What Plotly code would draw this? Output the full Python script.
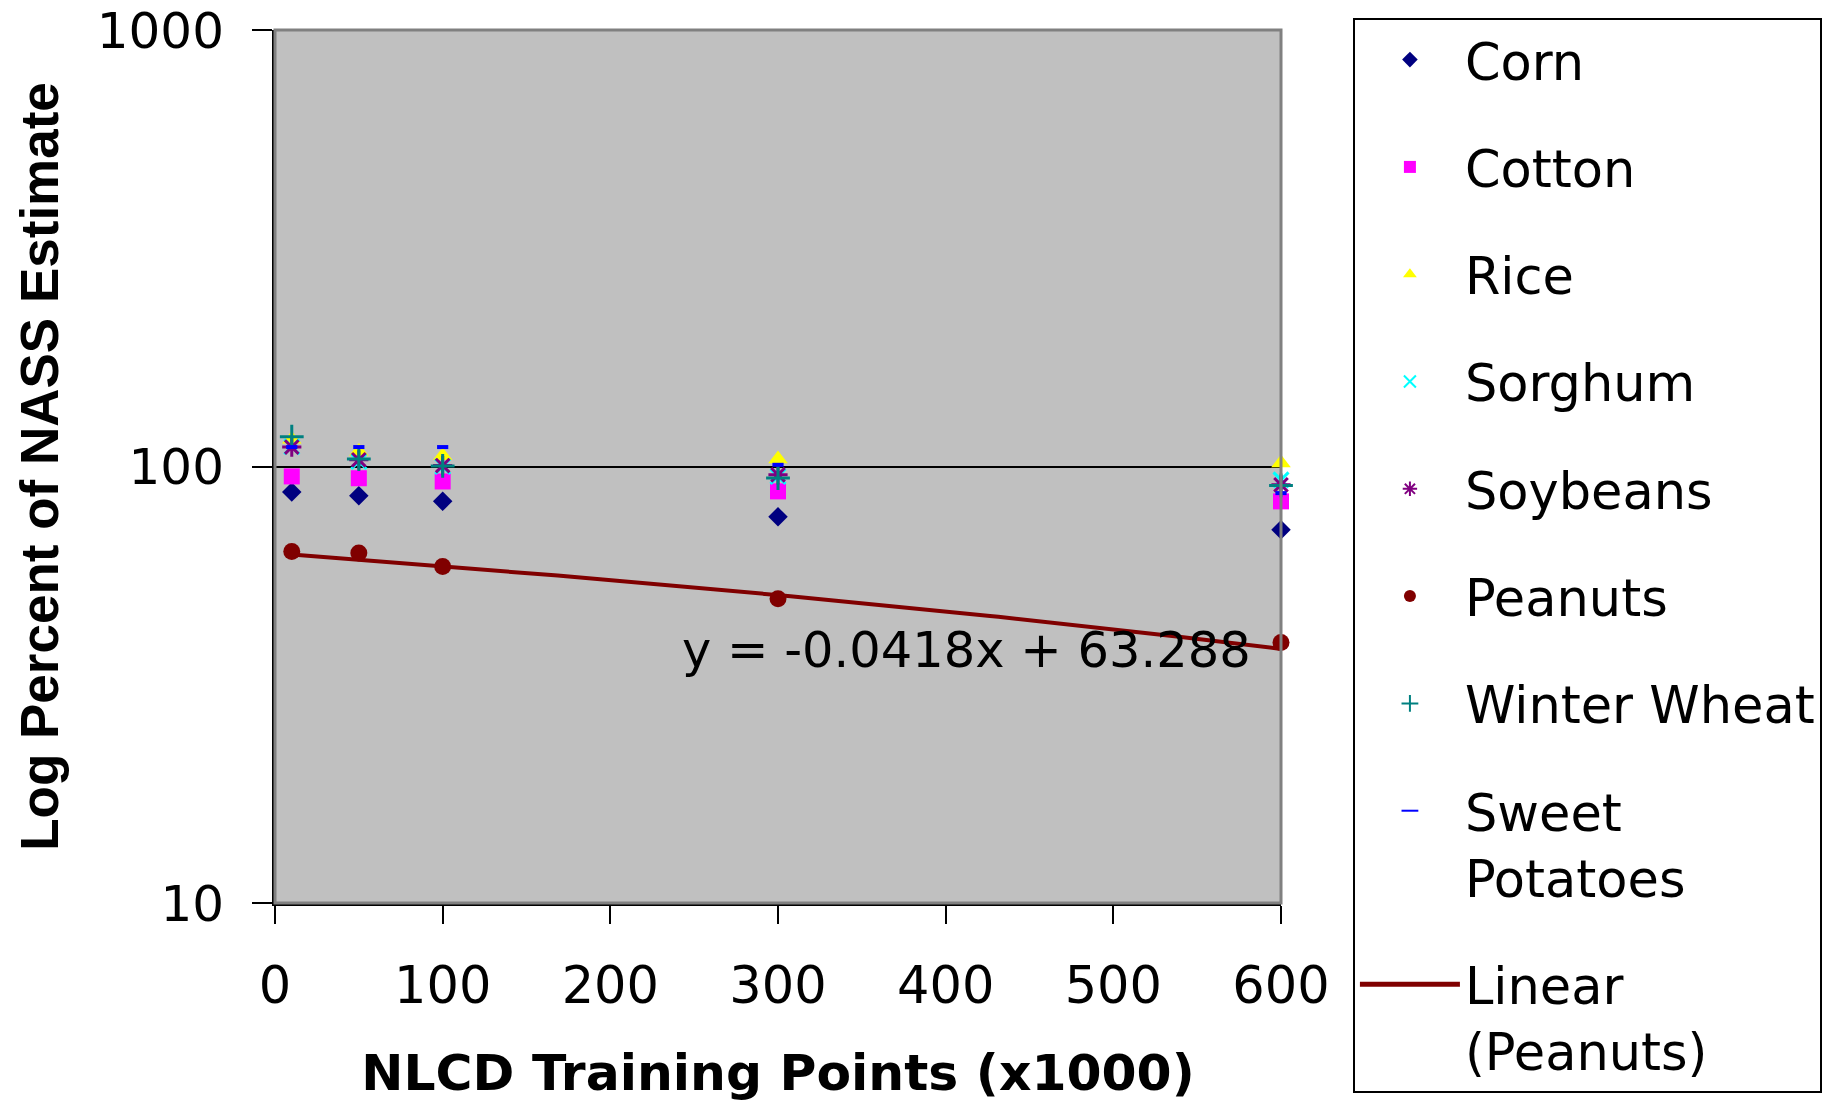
import numpy as np
import plotly.graph_objects as go

# ---- data ----
X_POINTS = [10, 50, 100, 300, 600]          # NLCD training points (x1000)
CORN = [87.4, 85.7, 83.2, 76.7, 71.6]
COTTON = [94.9, 94.0, 92.4, 87.7, 83.2]
RICE = [115.5, 108.2, 105.8, 104.0, 101.8]
SORGHUM = [111.0, 102.7, 100.0, 94.9, 93.2]
SOYBEANS = [110.8, 103.6, 100.5, 95.7, 90.8]
PEANUTS = [63.9, 63.4, 59.0, 49.8, 39.5]
WINTER_WHEAT = [117.0, 104.0, 100.3, 94.1, 90.5]
SWEET_POTATOES = [110.8, 110.8, 110.8, 100.9, 86.9]

# linear trendline for peanuts, as printed on the chart
TREND_SLOPE = -0.0418
TREND_INTERCEPT = 63.288
TREND_LABEL = "y = -0.0418x + 63.288"

X_TICKS = [0, 100, 200, 300, 400, 500, 600]
Y_TICKS = [10, 100, 1000]
Y_TICK_TEXT = ["10", "100", "1000"]

SERIES = [
    ("Corn", CORN, "diamond", "#000080", 15, 0),
    ("Cotton", COTTON, "square", "#FF00FF", 16, 0),
    ("Rice", RICE, "triangle-up", "#FFFF00", 17, 0),
    ("Sorghum", SORGHUM, "x-thin-open", "#00FFFF", 15, 3),
    ("Soybeans", SOYBEANS, "asterisk-open", "#800080", 16, 3),
    ("Peanuts", PEANUTS, "circle", "#800000", 17, 0),
    ("Winter Wheat", WINTER_WHEAT, "cross-thin-open", "#008080", 17, 3),
    ("Sweet<br>Potatoes", SWEET_POTATOES, "line-ew-open", "#0000FF", 8, 4),
]

TXT_FONT = "DejaVu Sans, Liberation Sans, Arial, sans-serif"

fig = go.Figure()

# trendline first so that the markers sit above it
trend_x = np.linspace(X_POINTS[0], X_POINTS[-1], 120)
trend_y = TREND_SLOPE * trend_x + TREND_INTERCEPT
fig.add_trace(go.Scatter(
    x=trend_x, y=trend_y, mode="lines", name="Linear<br>(Peanuts)",
    line=dict(color="#800000", width=4), legendgroup="g99", legendrank=100,
))

for i, (name, vals, sym, col, size, lw) in enumerate(SERIES):
    marker = dict(symbol=sym, color=col, size=size)
    if lw:
        marker["line"] = dict(color=col, width=lw)
    else:
        marker["line"] = dict(width=0)
    fig.add_trace(go.Scatter(
        x=X_POINTS, y=vals, mode="markers", name=name,
        marker=marker, legendgroup="g%d" % i, legendrank=i + 1, cliponaxis=False,
    ))

fig.add_annotation(
    x=583, y=np.log10(38.0), xref="x", yref="y",
    text=TREND_LABEL, showarrow=False, xanchor="right", yanchor="middle",
    font=dict(family=TXT_FONT, size=49.5, color="black"),
)

# plot-area border (grey on top/right like the reference)
fig.add_shape(type="rect", xref="x domain", yref="y domain", x0=0, x1=1, y0=0, y1=1,
              line=dict(color="#808080", width=3), layer="above")

fig.update_layout(
    width=1848, height=1102,
    margin=dict(l=275, r=567, t=30, b=199, autoexpand=False),
    paper_bgcolor="white", plot_bgcolor="#C0C0C0",
    font=dict(family=TXT_FONT, color="black", size=48),
    showlegend=True,
    legend=dict(
        xref="container", yref="container",
        x=0.7321, y=0.9837, xanchor="left", yanchor="top",
        bgcolor="white", bordercolor="black", borderwidth=2,
        font=dict(family=TXT_FONT, size=51, color="black"),
        tracegroupgap=38, itemsizing="constant", valign="top",
        traceorder="grouped", itemwidth=100, maxheight=1,
    ),
    xaxis=dict(
        range=[0, 600], tickvals=X_TICKS, ticks="outside", ticklen=18, tickwidth=2,
        tickcolor="black", showline=True, linecolor="black", linewidth=3,
        showgrid=False, zeroline=False, ticklabelstandoff=18,
        tickfont=dict(family=TXT_FONT, size=51),
        title=dict(text="<b>NLCD Training Points (x1000)</b>",
                   font=dict(family="DejaVu Sans, sans-serif", size=50.4), standoff=46),
    ),
    yaxis=dict(
        type="log", range=[1, 3], tickvals=Y_TICKS, ticktext=Y_TICK_TEXT,
        ticks="outside", ticklen=20, tickwidth=2, tickcolor="black",
        showline=True, linecolor="black", linewidth=3, ticklabelstandoff=18,
        showgrid=True, gridcolor="black", gridwidth=2, zeroline=False,
        tickfont=dict(family=TXT_FONT, size=50),
        title=dict(text="<b>Log Percent of NASS Estimate</b>",
                   font=dict(family="Liberation Sans, Arial, sans-serif", size=53), standoff=22),
    ),
)

fig.write_html("out.html")
